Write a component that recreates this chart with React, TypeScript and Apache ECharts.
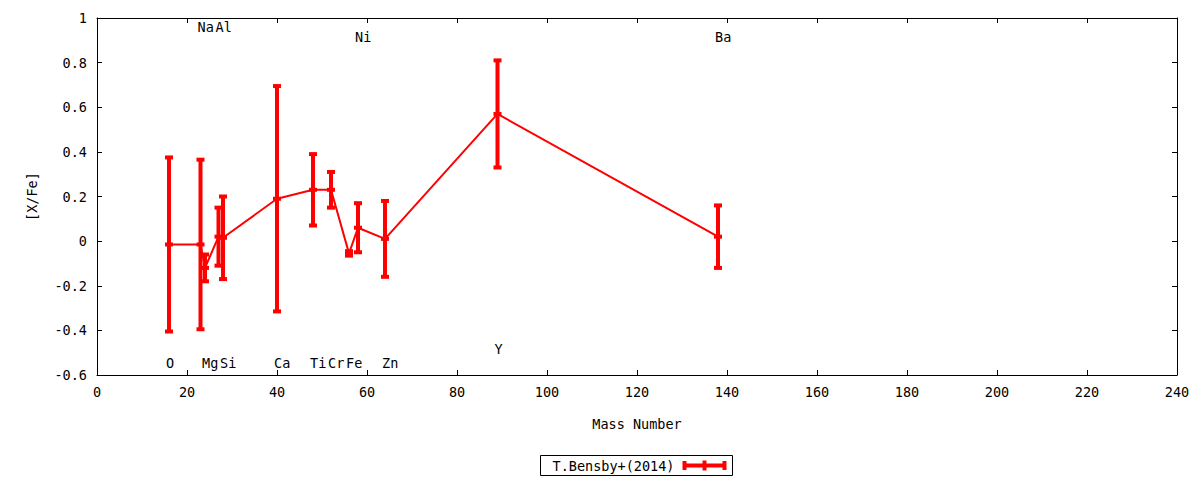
import React, { useEffect, useRef } from "react";
import * as echarts from "echarts";

const elements = ["O", "Na", "Mg", "Al", "Si", "Ca", "Ti", "Cr", "Fe", "Ni", "Zn", "Y", "Ba"];
const massNumbers = [16, 23, 24, 27, 28, 40, 48, 52, 56, 58, 64, 89, 138];
const abundances = [-0.015, -0.015, -0.12, 0.02, 0.015, 0.19, 0.23, 0.23, -0.055, 0.06, 0.01, 0.57, 0.02];
const errors = [0.39, 0.38, 0.06, 0.13, 0.185, 0.505, 0.16, 0.08, 0.01, 0.11, 0.17, 0.24, 0.14];
const labelLevels = [-0.545, 0.96, -0.545, 0.96, -0.545, -0.545, -0.545, -0.545, -0.545, 0.915, -0.545, -0.485, 0.915];
const seriesName = "T.Bensby+(2014)";

const xTicks = { min: 0, max: 240, interval: 20 };
const yTicks = { min: -0.6, max: 1, interval: 0.2 };

const FONT = "DejaVu Sans Mono";
const FS = 13.5;
const RED = "#ff0000";

export default function App() {
  const ref = useRef<HTMLDivElement>(null);

  useEffect(() => {
    document.body.style.margin = "0";
    const chart = echarts.init(ref.current!, null, { renderer: "svg" });

    const lineData = massNumbers.map((m, i) => [m, abundances[i]]);
    const errData = massNumbers.map((m, i) => [m, abundances[i], errors[i]]);
    const labelData = massNumbers.map((m, i) => [m, labelLevels[i], i]);

    const axisCommon = {
      axisLine: { show: true, onZero: false, lineStyle: { color: "#000", width: 1 } },
      axisTick: { show: true, inside: true, length: 5, lineStyle: { color: "#000", width: 1 } },
      splitLine: { show: false },
    };

    const yFmt = (v: number) => String(Number(v.toFixed(1)));

    const option: any = {
      animation: false,
      textStyle: { fontFamily: FONT, fontSize: FS, color: "#000" },
      grid: { left: 97, right: 23, top: 18, bottom: 105, containLabel: false },
      xAxis: [
        {
          type: "value",
          position: "bottom",
          ...xTicks,
          ...axisCommon,
          axisLabel: { color: "#000", fontFamily: FONT, fontSize: FS, margin: 10 },
          name: "Mass Number",
          nameLocation: "middle",
          nameGap: 42,
          nameTextStyle: { color: "#000", fontFamily: FONT, fontSize: FS },
        },
        {
          type: "value",
          position: "top",
          ...xTicks,
          ...axisCommon,
          axisLabel: { show: false },
        },
      ],
      yAxis: [
        {
          type: "value",
          position: "left",
          ...yTicks,
          ...axisCommon,
          axisLabel: { color: "#000", fontFamily: FONT, fontSize: FS, margin: 10, formatter: yFmt },
          name: "[X/Fe]",
          nameLocation: "middle",
          nameGap: 58,
          nameRotate: 90,
          nameTextStyle: { color: "#000", fontFamily: FONT, fontSize: FS },
        },
        {
          type: "value",
          position: "right",
          ...yTicks,
          ...axisCommon,
          axisLabel: { show: false },
        },
      ],
      series: [
        {
          type: "line",
          name: seriesName,
          data: lineData,
          symbol: "none",
          lineStyle: { color: RED, width: 2 },
          z: 3,
        },
        {
          type: "custom",
          name: seriesName + " err",
          data: errData,
          encode: { x: 0, y: 1 },
          z: 4,
          renderItem: (params: any, api: any) => {
            const x = api.value(0);
            const y = api.value(1);
            const e = api.value(2);
            const top = api.coord([x, y + e]);
            const bot = api.coord([x, y - e]);
            const mid = api.coord([x, y]);
            const cap = (p: number[]) => ({
              type: "rect",
              shape: { x: p[0] - 4, y: p[1] - 2, width: 8, height: 4 },
              style: { fill: RED },
            });
            return {
              type: "group",
              children: [
                {
                  type: "line",
                  shape: { x1: top[0], y1: top[1], x2: bot[0], y2: bot[1] },
                  style: { stroke: RED, lineWidth: 4 },
                },
                cap(top),
                cap(bot),
                cap(mid),
              ],
            };
          },
        },
        {
          type: "custom",
          name: "labels",
          data: labelData,
          encode: { x: 0, y: 1 },
          z: 5,
          renderItem: (params: any, api: any) => {
            const x = api.value(0);
            const y = api.value(1);
            const idx = api.value(2);
            const p = api.coord([x, y]);
            return {
              type: "text",
              x: p[0] - 3,
              y: p[1],
              style: {
                text: elements[idx],
                fill: "#000",
                font: `${FS}px "${FONT}"`,
                textAlign: "left",
                textVerticalAlign: "middle",
              },
            };
          },
        },
      ],
      graphic: [
        {
          type: "group",
          left: 540,
          top: 455,
          children: [
            {
              type: "rect",
              shape: { x: 0, y: 0, width: 192, height: 20 },
              style: { fill: "#fff", stroke: "#000", lineWidth: 1 },
            },
            {
              type: "text",
              x: 134,
              y: 10,
              style: {
                text: seriesName,
                fill: "#000",
                font: `${FS}px "${FONT}"`,
                textAlign: "right",
                textVerticalAlign: "middle",
              },
            },
            {
              type: "line",
              shape: { x1: 144, y1: 10, x2: 184, y2: 10 },
              style: { stroke: RED, lineWidth: 4 },
            },
            { type: "rect", shape: { x: 142, y: 5.5, width: 4, height: 9 }, style: { fill: RED } },
            { type: "rect", shape: { x: 182, y: 5.5, width: 4, height: 9 }, style: { fill: RED } },
            { type: "rect", shape: { x: 162, y: 5, width: 4, height: 10 }, style: { fill: RED } },
          ],
        },
      ],
    };

    chart.setOption(option);
    return () => chart.dispose();
  }, []);

  return <div ref={ref} style={{ width: 1200, height: 480 }} />;
}
